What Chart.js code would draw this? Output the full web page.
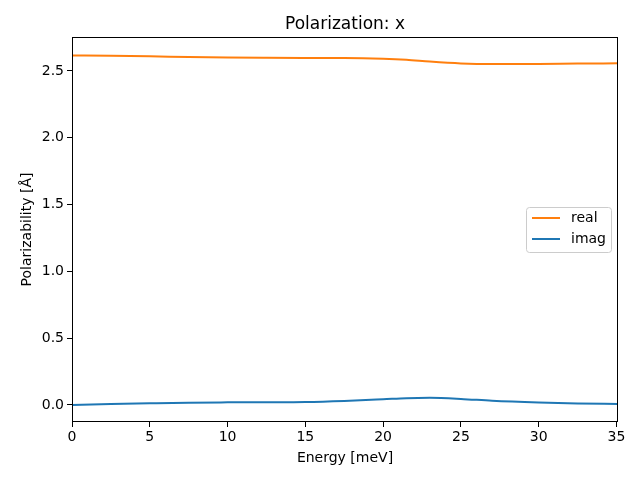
<!DOCTYPE html>
<html>
<head>
<meta charset="utf-8">
<script src="https://cdn.jsdelivr.net/npm/chart.js@4"></script>
<style>
  html, body { margin: 0; padding: 0; background: #fff; }
  #wrap { width: 640px; height: 480px; }
</style>
</head>
<body>
<div id="wrap"><canvas id="polChart" width="640" height="480"></canvas></div>
<script>
// energies in meV
const energy = [0, 2.5, 5, 7.5, 10, 12.5, 15, 17.5, 20, 21.5, 23, 25, 27, 30, 32.5, 35.1];
const realPart = [2.615, 2.614, 2.610, 2.604, 2.600, 2.598, 2.597, 2.597, 2.592, 2.584, 2.570, 2.556, 2.551, 2.552, 2.555, 2.557];
const imagPart = [0.000, 0.006, 0.012, 0.017, 0.019, 0.020, 0.022, 0.030, 0.042, 0.050, 0.053, 0.045, 0.031, 0.018, 0.011, 0.007];
const xTicks = [0, 5, 10, 15, 20, 25, 30, 35];
const yTicks = [0.0, 0.5, 1.0, 1.5, 2.0, 2.5];

const font = "'DejaVu Sans', sans-serif";

const frame = {
  id: "frame",
  afterDraw(chart) {
    const { ctx, chartArea: a } = chart;
    ctx.save();
    ctx.strokeStyle = "#000";
    ctx.lineWidth = 1;
    ctx.strokeRect(Math.round(a.left) + 0.5, Math.round(a.top) + 0.5,
                   Math.round(a.right - a.left) - 1, Math.round(a.bottom - a.top) - 1);

    // title
    ctx.fillStyle = "#000";
    ctx.font = "17px " + font;
    ctx.textAlign = "center";
    ctx.textBaseline = "alphabetic";
    ctx.fillText("Polarization: x", (a.left + a.right) / 2, 29);

    // legend
    const bx = 526, by = 207, bw = 85, bh = 45;
    ctx.fillStyle = "rgba(255,255,255,0.8)";
    ctx.strokeStyle = "#cccccc";
    ctx.beginPath();
    ctx.roundRect(bx + 0.5, by + 0.5, bw, bh, 3);
    ctx.fill();
    ctx.stroke();
    ctx.font = "14px " + font;
    ctx.textAlign = "left";
    ctx.textBaseline = "middle";
    chart.data.datasets.forEach((ds, i) => {
      const y = by + 11 + i * 21;
      ctx.strokeStyle = ds.borderColor;
      ctx.lineWidth = 2;
      ctx.beginPath();
      ctx.moveTo(bx + 6, y);
      ctx.lineTo(bx + 34, y);
      ctx.stroke();
      ctx.fillStyle = "#000";
      ctx.fillText(ds.label, bx + 45, y);
    });
    ctx.restore();
  }
};

new Chart(document.getElementById("polChart").getContext("2d"), {
  type: "line",
  data: {
    datasets: [
      { label: "real", data: energy.map((e, i) => ({ x: e, y: realPart[i] })),
        borderColor: "#ff7f0e", borderWidth: 2, pointRadius: 0, cubicInterpolationMode: "monotone" },
      { label: "imag", data: energy.map((e, i) => ({ x: e, y: imagPart[i] })),
        borderColor: "#1f77b4", borderWidth: 2, pointRadius: 0, cubicInterpolationMode: "monotone" }
    ]
  },
  options: {
    responsive: false,
    animation: false,
    layout: { padding: { top: 37, right: 22, left: 15, bottom: 9 } },
    plugins: { legend: { display: false }, title: { display: false }, tooltip: { enabled: false } },
    scales: {
      x: {
        type: "linear", min: 0, max: 35.1,
        afterBuildTicks: s => { s.ticks = xTicks.map(v => ({ value: v })); },
        afterFit: s => { s.height = 49; },
        grid: { drawOnChartArea: false, drawTicks: true, tickLength: 5, color: "#000" },
        border: { display: false },
        ticks: { color: "#000", font: { family: font, size: 14 }, padding: 2, maxRotation: 0,
                 callback: v => String(v) },
        title: { display: true, text: "Energy [meV]", color: "#000", font: { family: font, size: 14 }, padding: { top: 1 } }
      },
      y: {
        type: "linear", min: -0.128, max: 2.754,
        afterBuildTicks: s => { s.ticks = yTicks.map(v => ({ value: v })); },
        afterFit: s => { s.width = 57; },
        grid: { drawOnChartArea: false, drawTicks: true, tickLength: 5, color: "#000" },
        border: { display: false },
        ticks: { color: "#000", font: { family: font, size: 14 }, padding: 3,
                 callback: v => v.toFixed(1) },
        title: { display: true, text: "Polarizability [Å]", color: "#000", font: { family: font, size: 14 }, padding: { bottom: 2 } }
      }
    }
  },
  plugins: [frame]
});
</script>
</body>
</html>
